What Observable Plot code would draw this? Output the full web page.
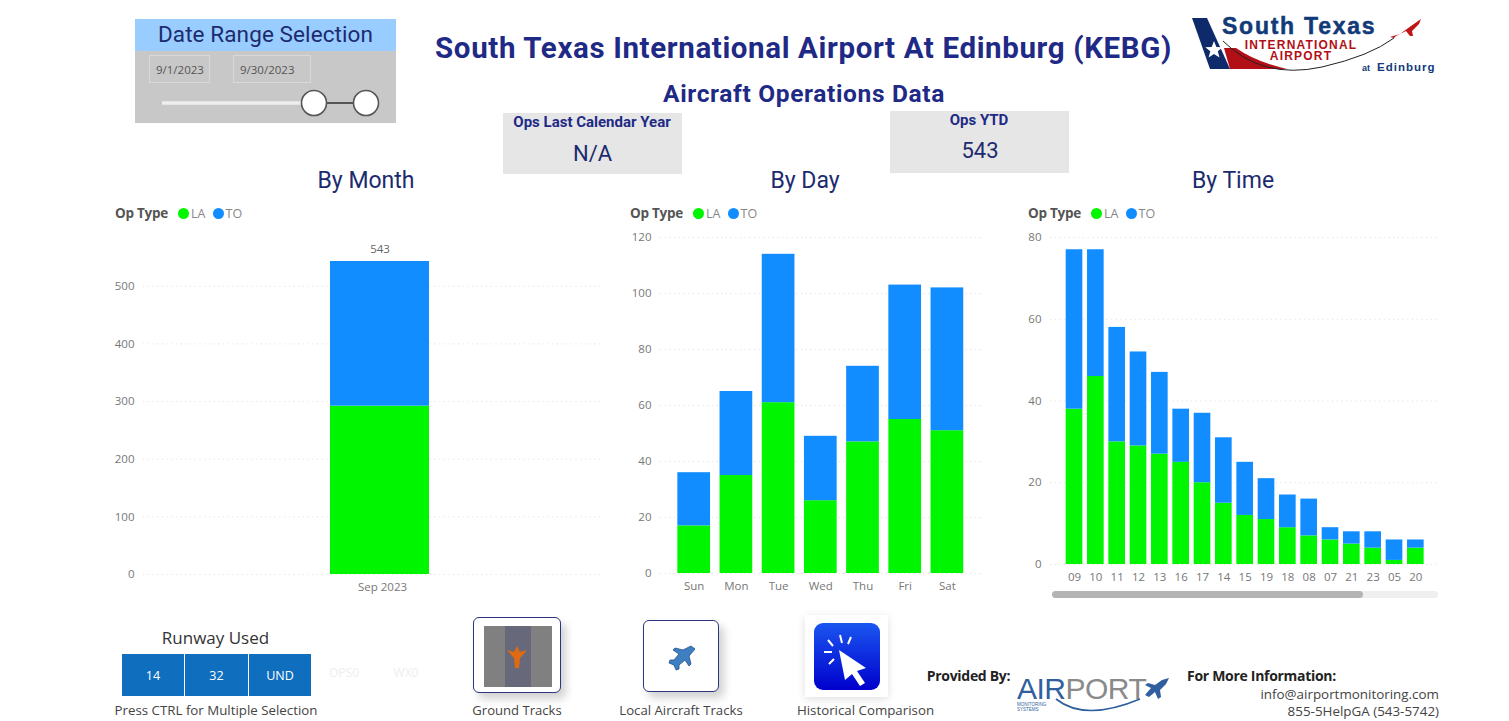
<!DOCTYPE html>
<html>
<head>
<meta charset="utf-8">
<script src="https://cdn.jsdelivr.net/npm/d3@7"></script>
<script src="https://cdn.jsdelivr.net/npm/@observablehq/plot@0.6"></script>
<style>
html,body{margin:0;background:#fff;}
#page{position:relative;width:1509px;height:721px;overflow:hidden;background:#fff;font-family:Roboto,sans-serif;}
#page>*{position:absolute;}
.t{white-space:nowrap;transform:translate(-50%,-50%);line-height:1;}
.din{color:#1c2b6e;}
.navy{color:#1f2a86;font-weight:700;}
.seg{font-family:"Open Sans",sans-serif;color:#444;}
.legend{font-family:"Open Sans",sans-serif;font-size:12.5px;color:#888;line-height:16px;white-space:nowrap;}
.legend b{color:#555;margin-right:10px;font-size:13.5px;letter-spacing:-.25px;}
.legend i{display:inline-block;width:11px;height:11px;border-radius:50%;margin-right:2px;vertical-align:-1px;}
.legend span{margin-right:7px;}
.box{border:1px solid #d9d9d9;box-sizing:border-box;font-family:"Open Sans",sans-serif;font-size:11.5px;color:#555;display:flex;align-items:center;padding-left:6px;}
.btn{background:#106ebe;color:#fff;font-family:"Open Sans",sans-serif;font-size:12.5px;display:flex;align-items:center;justify-content:center;}
.card{background:#e6e6e6;}
.ic{box-sizing:border-box;border:1.5px solid #2d3480;border-radius:6px;background:#fff;box-shadow:5px 6px 9px rgba(0,0,0,.18);}
svg{overflow:visible;}
</style>
</head>
<body>
<div id="page"></div>
<script>
const opTypes = ["LA", "TO"];
const opColors = ["#00f500", "#118dff"];

const months = ["Sep 2023"];
const monthLA = [292];
const monthTO = [251];
const monthTotals = [543];

const days = ["Sun", "Mon", "Tue", "Wed", "Thu", "Fri", "Sat"];
const dayLA = [17, 35, 61, 26, 47, 55, 51];
const dayTO = [19, 30, 53, 23, 27, 48, 51];

const hours = ["09","10","11","12","13","16","17","14","15","19","18","08","07","21","23","05","20"];
const hourLA = [38, 46, 30, 29, 27, 25, 20, 15, 12, 11, 9, 7, 6, 5, 4, 1, 4];
const hourTO = [39, 31, 28, 23, 20, 13, 17, 16, 13, 10, 8, 9, 3, 3, 4, 5, 2];

const page = document.getElementById("page");
function add(html){ page.insertAdjacentHTML("beforeend", html); }
function txt(s, x, y, size, cls, extra){
  add(`<div class="t ${cls||""}" style="left:${x}px;top:${y}px;font-size:${size}px;${extra||""}">${s}</div>`);
}
function rows(cats, la, to){
  return cats.flatMap((c,i)=>[{cat:c,op:"LA",v:la[i]},{cat:c,op:"TO",v:to[i]}]);
}
function chart(o){
  const marks = [
    Plot.gridY({ticks:o.ticks, stroke:"#e2e2e2", strokeOpacity:1, strokeDasharray:"1.2,3.5"}),
    Plot.barY(rows(o.cats,o.la,o.to),{x:"cat",y:"v",fill:"op",order:null}),
    Plot.axisY({ticks:o.ticks, tickSize:0, tickPadding:o.tp||9, fontSize:11.5, fill:"#777", label:null, fontFamily:"Open Sans"}),
    Plot.axisX({tickSize:0, tickPadding:o.xp||8, fontSize:11.5, fill:"#777", label:null, fontFamily:"Open Sans", dx:o.dx||0})
  ];
  if(o.totals) marks.push(Plot.text(o.cats.map((c,i)=>({c,t:o.totals[i]})),{x:"c",y:"t",text:"t",dy:-12,fontSize:11.5,fill:"#666",fontFamily:"Open Sans"}));
  const p = Plot.plot({
    width:o.w, height:o.h, marginLeft:o.ml, marginRight:o.mr, marginTop:o.mt, marginBottom:o.mb,
    style:{background:"transparent",overflow:"visible"},
    x:{domain:o.cats, range:o.xr, paddingInner:o.pi, paddingOuter:o.po, round:false, label:null},
    y:{domain:o.yd, label:null},
    color:{domain:opTypes, range:opColors},
    marks
  });
  p.style.position="absolute"; p.style.left=o.l+"px"; p.style.top=o.t+"px";
  page.appendChild(p);
}

/* date range panel */
add(`<div style="left:135px;top:19px;width:261px;height:104px;background:#c8c8c8"></div>`);
add(`<div style="left:135px;top:19px;width:261px;height:32px;background:#99ccff"></div>`);
txt("Date Range Selection",265.5,33.5,22.5,"din","letter-spacing:.1px");
add(`<div class="box" style="left:149px;top:55px;width:61px;height:28px">9/1/2023</div>`);
add(`<div class="box" style="left:233px;top:55px;width:78px;height:28px">9/30/2023</div>`);

/* headings */
txt("South Texas International Airport At Edinburg (KEBG)",803.5,49,29.5,"navy","letter-spacing:.63px");
txt("Aircraft Operations Data",804,94,24.5,"navy","letter-spacing:.65px");

/* KPI cards */
add(`<div class="card" style="left:503px;top:113px;width:179px;height:61px"></div>`);
add(`<div class="card" style="left:890px;top:111px;width:179px;height:62px"></div>`);
txt("Ops Last Calendar Year",592,122,15,"navy");
txt("N/A",592.5,154,22,"din");
txt("Ops YTD",979,120,15,"navy");
txt("543",980,151,22,"din");

/* chart titles */
txt("By Month",366,180,23,"din");
txt("By Day",805,180,23,"din");
txt("By Time",1233,180,23,"din");

/* legends */
const leg = opTypes.map((n,i)=>`<i style="background:${opColors[i]}"></i><span>${n}</span>`).join("");
[115,630,1028].forEach(x=>add(`<div class="legend" style="left:${x}px;top:205px"><b>Op Type</b>${leg}</div>`));

/* charts */
chart({l:100,t:220,w:520,h:380,ml:43,mr:20,mt:41,mb:26,cats:months,la:monthLA,to:monthTO,totals:monthTotals,
  yd:[0,543],ticks:[0,100,200,300,400,500],xr:[230,329],pi:0,po:0,tp:9,xp:8,dx:2.5});
chart({l:620,t:220,w:370,h:380,ml:40,mr:6,mt:17,mb:27,cats:days,la:dayLA,to:dayTO,
  yd:[0,120],ticks:[0,20,40,60,80,100,120],xr:[52.6,348],pi:.225,po:.1125,tp:9,xp:8});
chart({l:1020,t:220,w:430,h:380,ml:30,mr:10,mt:17,mb:36,cats:hours,la:hourLA,to:hourTO,
  yd:[0,80],ticks:[0,20,40,60,80],xr:[43.35,406],pi:.22,po:.11,tp:9,xp:8});

/* scrollbar */
add(`<div style="left:1052px;top:591px;width:386px;height:7px;border-radius:4px;background:#efefef"></div>`);
add(`<div style="left:1052px;top:591px;width:311px;height:7px;border-radius:4px;background:#b3b3b3"></div>`);

/* runway slicer */
txt("Runway Used",215.5,636.5,17,"seg","color:#333");
[["14",122,62],["32",185,63],["UND",249,62]].forEach(([s,x,w])=>add(`<div class="btn" style="left:${x}px;top:654px;width:${w}px;height:42px">${s}</div>`));
txt("OPS0",344,673,12,"seg","color:#eeeeee");
txt("WX0",406,673,12,"seg","color:#eeeeee");
txt("Press CTRL for Multiple Selection",216,711,13.3,"seg");

/* action tiles */
add(`<div class="ic" style="left:473px;top:617px;width:88px;height:76px"></div>`);
add(`<div class="ic" style="left:643px;top:620px;width:76px;height:72px"></div>`);
add(`<div style="left:805px;top:615px;width:83px;height:82px;background:#fff;box-shadow:0 2px 8px rgba(0,0,0,.13)"></div>`);
txt("Ground Tracks",517,710.5,13.1,"seg");
txt("Local Aircraft Tracks",681,710.5,13.2,"seg");
txt("Historical Comparison",865.5,710.5,13.3,"seg");

/* provider text */
txt("Provided By:",968.5,676,14,"seg","font-weight:700;color:#222;letter-spacing:-.3px");
txt("For More Information:",1261.5,676,14,"seg","font-weight:700;color:#222;letter-spacing:-.3px");
add(`<div class="seg" style="right:70px;top:685px;font-size:13.4px;white-space:nowrap">info@airportmonitoring.com</div>`);
add(`<div class="seg" style="right:70px;top:702px;font-size:13.4px;white-space:nowrap">855-5HelpGA (543-5742)</div>`);

/* decorative pictures: slider, logos and icons */
add(`<svg width="1509" height="721" style="left:0;top:0;pointer-events:none" font-family="Liberation Sans">
<defs><linearGradient id="bl" x1="0" y1="0" x2="0" y2="1"><stop offset="0" stop-color="#1a56f0"/><stop offset="1" stop-color="#0000cc"/></linearGradient></defs>
<line x1="162" x2="302" y1="103" y2="103" stroke="#efefef" stroke-width="3.5"/>
<line x1="314" x2="366" y1="103" y2="103" stroke="#555" stroke-width="2"/>
<circle cx="314" cy="103" r="12.5" fill="#fff" stroke="#555" stroke-width="1.6"/>
<circle cx="366" cy="103" r="12.5" fill="#fff" stroke="#555" stroke-width="1.6"/>

<path d="M1192 18H1207L1230 69H1210Z" fill="#0f2a6a"/>
<path d="M1214 41l2.4 6 6.4.3-5 4 1.7 6.2-5.5-3.5-5.4 3.5 1.7-6.2-5-4 6.4-.3z" fill="#fff"/>
<path d="M1224 48 H1236 Q1256 62 1287 69 H1230Z" fill="#b30f17"/>
<path d="M1223 41Q1262 80 1322 67Q1370 56 1394 38" fill="none" stroke="#222" stroke-width="1"/>
<text x="1222" y="34" font-size="23" font-weight="700" fill="#123a78" letter-spacing="1.75" stroke="#123a78" stroke-width=".5">South Texas</text>
<text x="1301" y="49" font-size="12" font-weight="700" fill="#b30f17" text-anchor="middle" letter-spacing="1.2">INTERNATIONAL</text>
<text x="1301" y="60" font-size="12" font-weight="700" fill="#b30f17" text-anchor="middle" letter-spacing="1.2">AIRPORT</text>
<text x="1362" y="71" font-size="9" font-weight="700" fill="#123a78">at</text>
<text x="1377" y="71" font-size="11.5" font-weight="700" fill="#123a78" letter-spacing="1">Edinburg</text>
<path d="M1390 37l10-3 11-8 10-7-2 5-7 7 1 5-3 0-4-5-10 5-2 2z" fill="#c01515"/>

<rect x="484" y="626" width="68" height="61" fill="#808080"/>
<rect x="505" y="626" width="26" height="61" fill="#67687a"/>
<path d="M517 646l3 6 7-2-5 6-2 2-1 10h-4l-1-10-2-2-5-6 7 2z" fill="#e06a12"/>

<path d="M691 646l4 3-6 7 2 8-2 2-4-6-6 5 0 4-3 1-2-5-5-2 1-3 4 0 5-6-6-4 2-2 8 2z" fill="#3d7fc0" stroke="#1f4f8a" stroke-width=".8"/>

<rect x="814" y="623" width="66" height="67" rx="9" fill="url(#bl)"/>
<path d="M839 650l27 18-9 3 8 12-5 3-8-12-7 6z" fill="#fff"/>
<path d="M840 635l2 8M828 640l5 6M824 652h8M829 664l5-5M851 637l-3 7" stroke="#fff" stroke-width="2"/>

<text x="1017" y="699" font-size="30" fill="#2f5f9e" letter-spacing="-.5">AIR<tspan fill="#8a8a8a">PORT</tspan></text>
<path d="M1145 695l6-7-6-3 3-2 7 2 7-5 7-2-3 6-6 6 1 7-3 2-3-7-6 5z" fill="#2f5f9e"/>
<path d="M1056 699Q1085 722 1140 699" fill="none" stroke="#2f5f9e" stroke-width="1.6"/>
<text x="1017" y="706" font-size="4.5" fill="#2f5f9e">MONITORING</text>
<text x="1017" y="711" font-size="4.5" fill="#2f5f9e">SYSTEMS</text>
</svg>`);
</script>
</body>
</html>
